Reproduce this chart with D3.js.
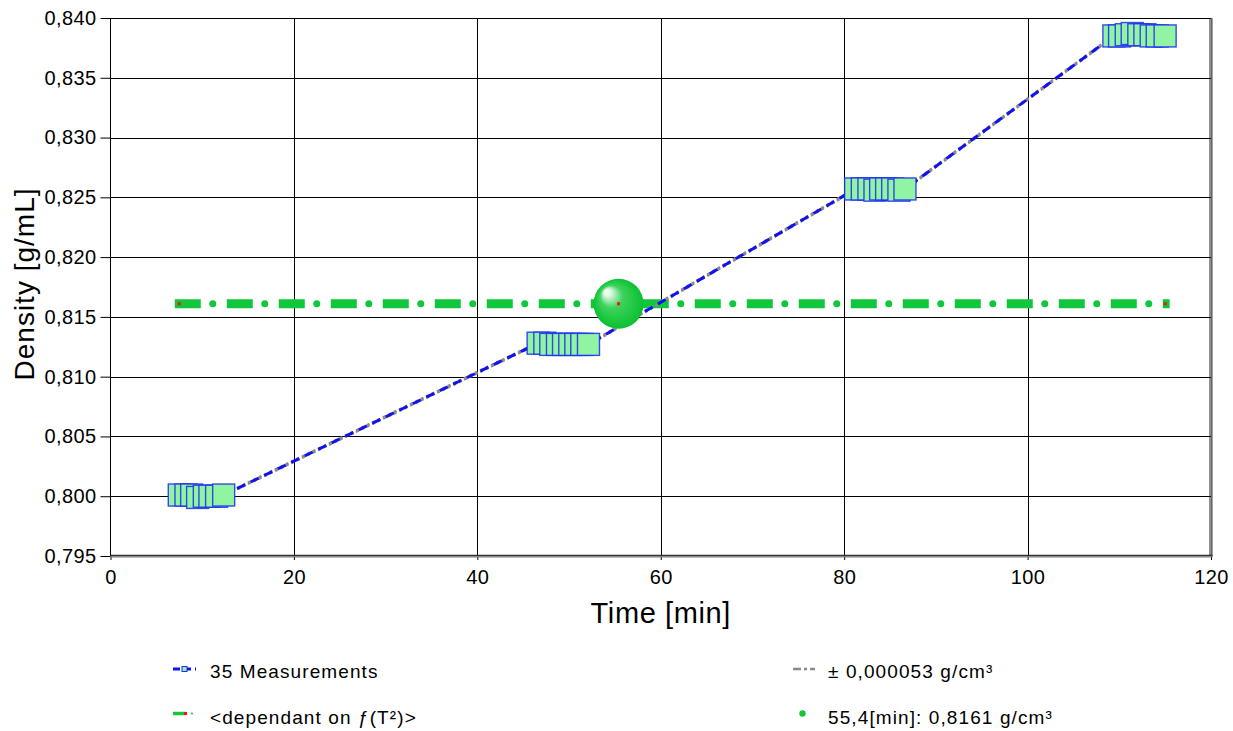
<!DOCTYPE html>
<html>
<head>
<meta charset="utf-8">
<script src="https://cdn.jsdelivr.net/npm/d3@7"></script>
<style>
  html, body { margin: 0; padding: 0; background: #fff; }
  svg { display: block; font-family: "Liberation Sans", Arial, sans-serif; }
</style>
</head>
<body>
<svg id="chart" width="1233" height="731"></svg>
<script>
// ---- data ----
const times = [7.50, 8.23, 8.85, 9.50, 10.23, 10.84, 11.57, 12.34,
  46.63, 47.36, 48.01, 48.74, 49.40, 50.08, 50.74, 51.39, 52.12,
  81.25, 81.98, 82.70, 83.36, 83.98, 84.63, 85.29, 85.97, 86.63,
  109.41, 110.03, 110.76, 111.41, 112.13, 112.79, 113.48, 114.14, 115.00];
const densities = [0.8001, 0.8001, 0.8001, 0.7999, 0.8000, 0.8000, 0.8000, 0.8001,
  0.8128, 0.8128, 0.8127, 0.8127, 0.8127, 0.8127, 0.8127, 0.8127, 0.8127,
  0.8257, 0.8257, 0.8257, 0.8256, 0.8257, 0.8257, 0.8257, 0.8256, 0.8257,
  0.8385, 0.8385, 0.8386, 0.8387, 0.8386, 0.8386, 0.8385, 0.8385, 0.8385];
const uncertainty = 0.000053;
const resultTime = 55.4;
const resultDensity = 0.8161;
const xTicks = [0, 20, 40, 60, 80, 100, 120];
const yTicks = [0.795, 0.800, 0.805, 0.810, 0.815, 0.820, 0.825, 0.830, 0.835, 0.840];
const legendLabels = ["35 Measurements", "± 0,000053 g/cm³", "<dependant on ƒ(T²)>", "55,4[min]: 0,8161 g/cm³"];
const xTitle = "Time [min]";
const yTitle = "Density [g/mL]";

// ---- layout ----
const L = 110.5, R = 1211, T = 18, B = 556;
const svg = d3.select("#chart");
const x = d3.scaleLinear().domain([0, 120]).range([L, R]);
const y = d3.scaleLinear().domain([0.795, 0.840]).range([B, T]);
const pts = times.map((t, i) => ({t, d: densities[i]}));

const defs = svg.append("defs");
const rg = defs.append("radialGradient").attr("id", "ball")
  .attr("cx", "0.5").attr("cy", "0.5").attr("r", "0.5")
  .attr("fx", "0.24").attr("fy", "0.24");
rg.append("stop").attr("offset", "0").attr("stop-color", "#ffffff");
rg.append("stop").attr("offset", "0.14").attr("stop-color", "#e2f9e6");
rg.append("stop").attr("offset", "0.45").attr("stop-color", "#3fd25e");
rg.append("stop").attr("offset", "0.8").attr("stop-color", "#1bc840");
rg.append("stop").attr("offset", "1").attr("stop-color", "#0cbf34");

// grid
const grid = svg.append("g");
grid.selectAll("line.v").data(xTicks.slice(1, -1)).join("line")
  .attr("x1", d => Math.round(x(d)) + 0.5).attr("x2", d => Math.round(x(d)) + 0.5)
  .attr("y1", T).attr("y2", B).attr("stroke", "#000").attr("stroke-width", 1);
grid.selectAll("line.h").data(yTicks.slice(1)).join("line")
  .attr("y1", d => Math.round(y(d)) + 0.5).attr("y2", d => Math.round(y(d)) + 0.5)
  .attr("x1", L).attr("x2", R).attr("stroke", "#000").attr("stroke-width", 1);

// axes
const fmt = d => d.toFixed(3).replace(".", ",");
const yAxis = svg.append("g").attr("transform", `translate(${L},0)`)
  .call(d3.axisLeft(y).tickValues(yTicks).tickFormat(fmt).tickSize(10).tickPadding(4));
const xAxis = svg.append("g").attr("transform", `translate(0,${B})`)
  .call(d3.axisBottom(x).tickValues(xTicks).tickFormat(d3.format("d")).tickSize(4).tickPadding(10));
[yAxis, xAxis].forEach(a => {
  a.select(".domain").remove();
  a.selectAll(".tick line").attr("stroke", "#000");
  a.selectAll(".tick text").attr("fill", "#000").attr("font-size", "20px")
    .attr("font-family", "Liberation Sans, Arial, sans-serif").style("letter-spacing", "0.4px");
});

// frame
svg.append("line").attr("x1", L).attr("x2", L).attr("y1", T).attr("y2", B).attr("stroke", "#000");
svg.append("line").attr("x1", L).attr("x2", R).attr("y1", T + 0.5).attr("y2", T + 0.5).attr("stroke", "#000");
svg.append("line").attr("x1", R - 1).attr("x2", R - 1).attr("y1", T).attr("y2", B).attr("stroke", "#222").attr("stroke-width", 1);
svg.append("line").attr("x1", R + 0.8).attr("x2", R + 0.8).attr("y1", T).attr("y2", B + 1).attr("stroke", "#666").attr("stroke-width", 1.6);
svg.append("line").attr("x1", L).attr("x2", R + 1.5).attr("y1", B - 0.5).attr("y2", B - 0.5).attr("stroke", "#333").attr("stroke-width", 1.4);
svg.append("line").attr("x1", L).attr("x2", R + 1.5).attr("y1", B + 0.9).attr("y2", B + 0.9).attr("stroke", "#777").attr("stroke-width", 1.4);

// green constant line (result density), dash-dot with square ends
const capExt = 4.5;
const gPts = [{t: times[0], d: resultDensity}, {t: times[times.length - 1], d: resultDensity}];
const gLine = d3.line().x((d, i) => x(d.t) + (i === 0 ? -capExt : capExt)).y(d => y(d.d));
svg.append("path").attr("d", gLine(gPts)).attr("fill", "none")
  .attr("stroke", "#10c63a").attr("stroke-width", 9).attr("stroke-linecap", "butt")
  .attr("stroke-dasharray", "26 26");
svg.append("path").attr("d", gLine(gPts)).attr("fill", "none")
  .attr("stroke", "#10c63a").attr("stroke-width", 7).attr("stroke-linecap", "round")
  .attr("stroke-dasharray", "0.01 51.99").attr("stroke-dashoffset", -38);
svg.selectAll("rect.gm").data(gPts).join("rect")
  .attr("x", d => x(d.t) - 1.5).attr("y", d => y(d.d) - 1.5).attr("width", 3).attr("height", 3)
  .attr("fill", "#ff1010");

// uncertainty (gray dash-dot) and measurement line (blue dashed)
const mLine = d3.line().x(d => x(d.t)).y(d => y(d.d));
[uncertainty, -uncertainty].forEach(u => {
  svg.append("path").attr("d", mLine(pts.map(p => ({t: p.t, d: p.d + u})))).attr("fill", "none")
    .attr("stroke", "#8a8a8a").attr("stroke-width", 2.5).attr("stroke-dasharray", "3 3");
});
svg.append("path").attr("d", mLine(pts)).attr("fill", "none")
  .attr("stroke", "#1212ee").attr("stroke-width", 3).attr("stroke-dasharray", "9 6");

// markers
svg.selectAll("rect.m").data(pts).join("rect")
  .attr("x", d => x(d.t) - 11).attr("y", d => y(d.d) - 11)
  .attr("width", 22).attr("height", 22)
  .attr("fill", "#91f4a2").attr("stroke", "#1a2cf5").attr("stroke-opacity", 0.85).attr("stroke-width", 1.4);

// result ball
svg.append("circle").attr("cx", x(resultTime)).attr("cy", y(resultDensity)).attr("r", 25)
  .attr("fill", "url(#ball)");
svg.append("rect").attr("x", x(resultTime) - 1.5).attr("y", y(resultDensity) - 1.5)
  .attr("width", 3).attr("height", 3).attr("fill", "#ff1010");

// axis titles
svg.append("text").attr("x", (L + R) / 2).attr("y", 623).attr("text-anchor", "middle")
  .attr("font-size", "29px").style("letter-spacing", "0.6px").attr("fill", "#000").text(xTitle);
svg.append("text").attr("transform", `translate(33.5,${(T + B) / 2 - 3}) rotate(-90)`).attr("text-anchor", "middle")
  .attr("font-size", "28px").style("letter-spacing", "1px").attr("fill", "#000").text(yTitle);

// legend
const lg = svg.append("g");
lg.append("line").attr("x1", 173).attr("x2", 196).attr("y1", 669).attr("y2", 669)
  .attr("stroke", "#1212ee").attr("stroke-width", 3).attr("stroke-dasharray", "7 4");
lg.append("rect").attr("x", 182).attr("y", 666.5).attr("width", 5).attr("height", 5)
  .attr("fill", "#91f4a2").attr("stroke", "#1a2cf5").attr("stroke-width", 1);
lg.append("line").attr("x1", 793).attr("x2", 815).attr("y1", 669).attr("y2", 669)
  .attr("stroke", "#8a8a8a").attr("stroke-width", 2.5).attr("stroke-dasharray", "8 3 3 3");
lg.append("line").attr("x1", 173).attr("x2", 186).attr("y1", 713.5).attr("y2", 713.5)
  .attr("stroke", "#10c63a").attr("stroke-width", 3.5);
lg.append("rect").attr("x", 184).attr("y", 712).attr("width", 3).attr("height", 3).attr("fill", "#ff1010");
lg.append("circle").attr("cx", 192).attr("cy", 713.5).attr("r", 1).attr("fill", "#10c63a");
lg.append("circle").attr("cx", 802.5).attr("cy", 713.5).attr("r", 3.2).attr("fill", "#10c63a");

const legendPos = [[210, 678], [828, 678], [210, 724], [828, 724]];
lg.selectAll("text").data(legendLabels).join("text")
  .attr("x", (d, i) => legendPos[i][0]).attr("y", (d, i) => legendPos[i][1])
  .attr("font-size", "19px").style("letter-spacing", "1.1px").attr("fill", "#000")
  .text(d => d);
</script>
</body>
</html>
